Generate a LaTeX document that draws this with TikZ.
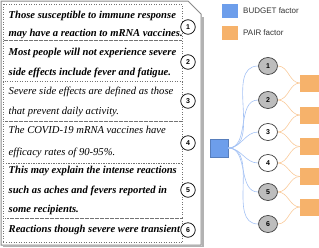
\documentclass[tikz,border=0pt]{standalone}
\usepackage{fontspec}
\setmainfont{Liberation Serif}
\newfontfamily\legendfont{Liberation Sans}
\usetikzlibrary{shapes.geometric}
\definecolor{budgetblue}{HTML}{6D9EEB}
\definecolor{pairorange}{HTML}{F6B26B}
\definecolor{bluelink}{HTML}{A4C2F4}
\definecolor{orangelink}{HTML}{F9CB9C}
\definecolor{panelgray}{HTML}{8A8A8A}
\definecolor{circgray}{HTML}{BDBDBD}
\tikzset{
  boldline/.style={anchor=base west, inner sep=0pt, font=\fontsize{10.6}{12}\selectfont\bfseries\itshape},
  plainline/.style={anchor=base west, inner sep=0pt, font=\fontsize{10.6}{12}\selectfont\itshape},
  sentbox/.style={draw=black!55, dotted, line width=0.5pt},
  panelnum/.style={circle, draw=black, fill=white, line width=0.7pt, minimum size=14.5pt, inner sep=0pt, font=\legendfont\bfseries\fontsize{7}{8}\selectfont},
  graynum/.style={ellipse, draw=black!75, fill=circgray, line width=0.7pt, minimum width=19pt, minimum height=17pt, inner sep=0pt, font=\legendfont\bfseries\fontsize{7}{8}\selectfont},
  whitenum/.style={graynum, fill=white},
  pairbox/.style={fill=pairorange, draw=none, minimum width=19pt, minimum height=17pt, inner sep=0pt, anchor=west},
  legtext/.style={anchor=west, inner sep=0pt, font=\legendfont\fontsize{8}{9}\selectfont, text=black!80},
  blink/.style={draw=bluelink, line width=0.6pt, out=0, in=180},
  olink/.style={draw=orangelink, line width=0.6pt, out=0, in=180},
}
\begin{document}
\begin{tikzpicture}[x=1pt,y=-1pt]
\useasboundingbox (0,0) rectangle (319,247);
% panel shadow and outline
\draw[black!30, line width=1.2pt] (203,17) -- (203,246.5) -- (3,246.5);
\draw[panelgray, line width=1pt, fill=white] (1,1) -- (188,1) -- (201,14) -- (201,245) -- (1,245) -- cycle;
% sentence boxes
\draw[sentbox] (3,4) rectangle (182,40.7);
\draw[sentbox] (3,40.7) rectangle (182,81.5);
\draw[sentbox] (3,81.5) rectangle (182,121);
\draw[sentbox] (3,121) rectangle (182,163);
\draw[sentbox] (3,163) rectangle (182,218);
\draw[sentbox] (3,218) rectangle (182,242.5);
% sentences
\node[boldline] (s1a) at (8.5,18.7) {Those susceptible to immune response};
\node[boldline] (s1b) at (8.5,36.7) {may have a reaction to mRNA vaccines.};
\node[boldline] (s2a) at (8.5,55.7) {Most people will not experience severe};
\node[boldline] (s2b) at (8.5,75.3) {side effects include fever and fatigue.};
\node[plainline] (s3a) at (8.5,94) {Severe side effects are defined as those};
\node[plainline] (s3b) at (8.5,114) {that prevent daily activity.};
\node[plainline] (s4a) at (8.5,133) {The COVID-19 mRNA vaccines have};
\node[plainline] (s4b) at (8.5,155) {efficacy rates of 90-95\%.};
\node[boldline] (s5a) at (8.5,173) {This may explain the intense reactions};
\node[boldline] (s5b) at (8.5,193) {such as aches and fevers reported in};
\node[boldline] (s5c) at (8.5,212) {some recipients.};
\node[boldline] (s6a) at (8.5,232) {Reactions though severe were transient};
% panel numbers
\node[panelnum] (p1) at (188,27) {1};
\node[panelnum] (p2) at (188,62) {2};
\node[panelnum] (p3) at (188,101) {3};
\node[panelnum] (p4) at (188,143) {4};
\node[panelnum] (p5) at (188,190) {5};
\node[panelnum] (p6) at (188,230) {6};
% legend
\node[fill=budgetblue, minimum width=16pt, minimum height=14pt, inner sep=0pt] (lb) at (230,10.5) {};
\node[legtext] (lbt) at (243,10.5) {BUDGET factor};
\node[fill=pairorange, minimum width=16pt, minimum height=14pt, inner sep=0pt] (lp) at (230,33) {};
\node[legtext] (lpt) at (243,33) {PAIR factor};
% factor graph
\node[fill=budgetblue, draw=budgetblue!80!black, line width=0.3pt, minimum size=18pt, inner sep=0pt] (bud) at (219,148) {};
\node[graynum] (c1) at (268,66) {1};
\node[graynum] (c2) at (268,100) {2};
\node[whitenum] (c3) at (268,132) {3};
\node[whitenum] (c4) at (268,163) {4};
\node[graynum] (c5) at (268,192) {5};
\node[graynum] (c6) at (268,224) {6};
\node[pairbox] (r1) at (300,83) {};
\node[pairbox] (r2) at (300,115) {};
\node[pairbox] (r3) at (300,146.5) {};
\node[pairbox] (r4) at (300,176.5) {};
\node[pairbox] (r5) at (300,207) {};
\foreach \c in {c1,c2,c3,c4,c5,c6}
  \draw[blink] (bud.east) to (\c.west);
\draw[olink] (c1.east) to (r1.west);
\draw[olink] (c2.east) to (r1.west);
\draw[olink] (c2.east) to (r2.west);
\draw[olink] (c3.east) to (r2.west);
\draw[olink] (c3.east) to (r3.west);
\draw[olink] (c4.east) to (r3.west);
\draw[olink] (c4.east) to (r4.west);
\draw[olink] (c5.east) to (r4.west);
\draw[olink] (c5.east) to (r5.west);
\draw[olink] (c6.east) to (r5.west);
\end{tikzpicture}
\end{document}
